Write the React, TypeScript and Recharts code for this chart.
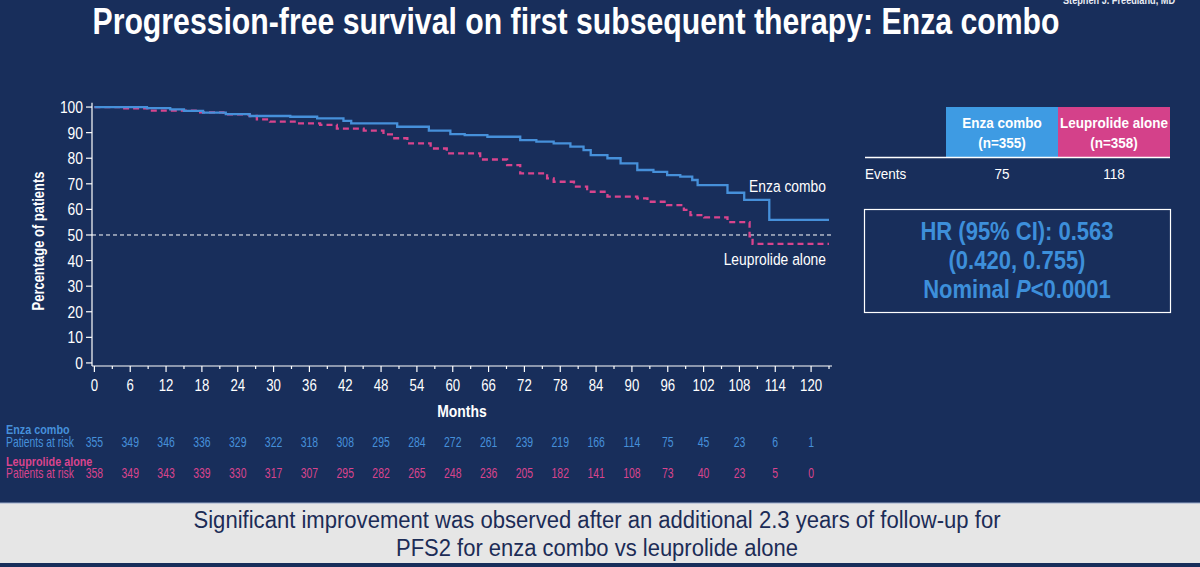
import React from 'react';
import { LineChart, Line, XAxis, YAxis, ReferenceLine } from 'recharts';

// Kaplan–Meier step points: month at which each level starts, and % progression-free
const enzaMonths = [0, 8.8, 12.7, 15, 18.2, 22, 26, 32.8, 37.3, 41.7, 43, 50.7, 56, 59.6, 62, 65.8, 71.3, 74, 76.9, 79.7, 81.9, 83.1, 85.9, 88.1, 90.9, 93.6, 95.9, 98.1, 100.1, 101, 106, 108.8, 113, 123];
const enzaPct = [100, 99.6, 99.1, 98.5, 97.8, 97.2, 96.5, 96.2, 95.6, 94.6, 93.6, 92.3, 90.8, 89.4, 89, 88.4, 87.1, 86.5, 85.8, 84.5, 83.2, 81.2, 80, 78, 75.4, 74.7, 73.4, 72.8, 71.5, 69.5, 66.5, 63.7, 55.9, 55.9];

const leupMonths = [0, 4.3, 9, 17.2, 21.6, 26, 27.2, 29.4, 33.9, 37.8, 40.6, 45.1, 48.4, 50, 52.4, 56.3, 59, 64.6, 69.1, 71.3, 75.8, 76.9, 80.3, 82.5, 85.9, 90.9, 92.6, 95.9, 98.7, 99.8, 102.1, 106, 109.7, 110.2, 123];
const leupPct = [100, 99.5, 98.6, 97.9, 97.1, 96.5, 95.2, 94.3, 93.6, 93, 91.6, 90.8, 89.3, 87.8, 85.8, 83.8, 81.9, 79.5, 77.3, 74.1, 72.1, 70.8, 68.9, 66.9, 65, 64.3, 63, 61.7, 59.8, 57.8, 56.9, 55, 49.5, 46.5, 46.5];

// Axis ticks: labelled every 6 months, minor marks every 3
const xTicks = [0, 3, 6, 9, 12, 15, 18, 21, 24, 27, 30, 33, 36, 39, 42, 45, 48, 51, 54, 57, 60, 63, 66, 69, 72, 75, 78, 81, 84, 87, 90, 93, 96, 99, 102, 105, 108, 111, 114, 117, 120, 123];
const yTicks = [0, 10, 20, 30, 40, 50, 60, 70, 80, 90, 100];

// Patients at risk at each labelled month (0, 6, ..., 120)
const enzaAtRisk = [355, 349, 346, 336, 329, 322, 318, 308, 295, 284, 272, 261, 239, 219, 166, 114, 75, 45, 23, 6, 1];
const leupAtRisk = [358, 349, 343, 339, 330, 317, 307, 295, 282, 265, 248, 236, 205, 182, 141, 108, 73, 40, 23, 5, 0];

// Summary table
const armNames = ['Enza combo', 'Leuprolide alone'];
const armN = ['(n=355)', '(n=358)'];
const armEvents = [75, 118];
const hrLines = ['HR (95% CI): 0.563', '(0.420, 0.755)'];

const enzaData = enzaMonths.map((m, i) => ({ m, s: enzaPct[i] }));
const leupData = leupMonths.map((m, i) => ({ m, s: leupPct[i] }));

const NAVY = '#182E5B';
const BLUE = '#4690DA';
const PINK = '#D9448D';
const CELL_BLUE = '#3E9BE3';
const CELL_PINK = '#D4418A';
const HR_BLUE = '#3D8FDA';
const FONT = "'Liberation Sans', Arial, sans-serif";

const AXIS_Y = 366;

type NTextProps = {
  x: number;
  y: number;
  size: number;
  fill: string;
  anchor?: 'start' | 'middle' | 'end';
  bold?: boolean;
  sx?: number;
  rotate?: number;
  children: React.ReactNode;
};

// Horizontally condensed text, centred vertically on y
const NText = ({ x, y, size, fill, anchor = 'start', bold = false, sx = 0.82, rotate = 0, children }: NTextProps) => (
  <text
    transform={`translate(${x},${y})${rotate ? ` rotate(${rotate})` : ''} scale(${sx},1)`}
    x={0}
    y={0}
    textAnchor={anchor}
    dominantBaseline="central"
    fill={fill}
    fontSize={size}
    fontWeight={bold ? 'bold' : 'normal'}
    fontFamily={FONT}
  >
    {children}
  </text>
);

const MonthTick = (props: any) => {
  const { x, payload } = props;
  const v = payload.value as number;
  const major = v % 6 === 0;
  const idx = v / 6;
  return (
    <g>
      <line x1={x} x2={x} y1={AXIS_Y} y2={AXIS_Y + (major ? 6 : 3)} stroke="#FFFFFF" strokeWidth={1.2} />
      {major && (
        <>
          <NText x={x} y={385} anchor="middle" size={16.5} fill="#FFFFFF" sx={0.8}>{v}</NText>
          <NText x={x} y={442} anchor="middle" size={14.5} fill={BLUE} sx={0.72}>{enzaAtRisk[idx]}</NText>
          <NText x={x} y={473} anchor="middle" size={14.5} fill={PINK} sx={0.72}>{leupAtRisk[idx]}</NText>
        </>
      )}
    </g>
  );
};

const PctTick = (props: any) => {
  const { x, y, payload } = props;
  return (
    <NText x={x} y={y} anchor="end" size={16.5} fill="#FFFFFF" sx={0.84}>{payload.value}</NText>
  );
};

export default function App() {
  return (
    <div style={{ position: 'fixed', left: 0, top: 0, width: 1200, height: 567, background: NAVY, overflow: 'hidden' }}>
      <div style={{ position: 'absolute', left: 0, top: 0 }}>
        <LineChart width={1200} height={567} margin={{ top: 102.7, right: 368, bottom: 171, left: 32 }}>
          <XAxis
            dataKey="m"
            type="number"
            domain={[-0.4, 123.5]}
            ticks={xTicks}
            interval={0}
            allowDataOverflow
            height={30}
            axisLine={{ stroke: '#FFFFFF', strokeWidth: 1.2 }}
            tickLine={false}
            tick={<MonthTick />}
          />
          <YAxis
            type="number"
            domain={[-1.2, 101.7]}
            ticks={yTicks}
            interval={0}
            allowDataOverflow
            width={60}
            axisLine={{ stroke: '#FFFFFF', strokeWidth: 1.2 }}
            tickLine={{ stroke: '#FFFFFF', strokeWidth: 1.2 }}
            tickSize={6}
            tickMargin={3}
            tick={<PctTick />}
          />
          <ReferenceLine y={50} stroke="#FFFFFF" strokeWidth={1} strokeDasharray="4 3" />
          <Line
            data={leupData}
            dataKey="s"
            type="stepAfter"
            stroke={PINK}
            strokeWidth={2.3}
            strokeDasharray="6 4"
            dot={false}
            isAnimationActive={false}
          />
          <Line
            data={enzaData}
            dataKey="s"
            type="stepAfter"
            stroke={BLUE}
            strokeWidth={2.3}
            dot={false}
            isAnimationActive={false}
          />
        </LineChart>
      </div>

      <svg width={1200} height={567} style={{ position: 'absolute', left: 0, top: 0, pointerEvents: 'none' }} fontFamily={FONT}>
        {/* Title and author */}
        <text x={576} y={21} textAnchor="middle" dominantBaseline="central" fill="#FFFFFF" fontSize={37} fontWeight="bold" textLength={967} lengthAdjust="spacingAndGlyphs">
          Progression-free survival on first subsequent therapy: Enza combo
        </text>
        <text x={1119} y={4} textAnchor="middle" fill="#E8ECF4" fontSize={11} fontWeight="bold" textLength={112} lengthAdjust="spacingAndGlyphs">
          Stephen J. Freedland, MD
        </text>

        {/* Axis titles */}
        <NText x={39} y={241} rotate={-90} anchor="middle" size={16} bold fill="#FFFFFF" sx={0.81}>Percentage of patients</NText>
        <NText x={462} y={411} anchor="middle" size={16} bold fill="#FFFFFF" sx={0.87}>Months</NText>

        {/* Curve labels */}
        <NText x={826} y={186} anchor="end" size={16.5} fill="#FFFFFF" sx={0.84}>Enza combo</NText>
        <NText x={826} y={259} anchor="end" size={16.5} fill="#FFFFFF" sx={0.84}>Leuprolide alone</NText>

        {/* Risk table row labels */}
        <NText x={6} y={430} size={13.5} bold fill={BLUE} sx={0.8}>Enza combo</NText>
        <NText x={6} y={442} size={14} fill={BLUE} sx={0.74}>Patients at risk</NText>
        <NText x={6} y={461.5} size={13.5} bold fill={PINK} sx={0.8}>Leuprolide alone</NText>
        <NText x={6} y={473} size={14} fill={PINK} sx={0.74}>Patients at risk</NText>

        {/* Summary table */}
        <rect x={946} y={107} width={112} height={50} fill={CELL_BLUE} />
        <rect x={1058} y={107} width={112} height={50} fill={CELL_PINK} />
        <NText x={1002} y={123} anchor="middle" size={15} bold fill="#FFFFFF" sx={0.9}>{armNames[0]}</NText>
        <NText x={1002} y={143} anchor="middle" size={15} bold fill="#FFFFFF" sx={0.9}>{armN[0]}</NText>
        <NText x={1114} y={123} anchor="middle" size={15} bold fill="#FFFFFF" sx={0.9}>{armNames[1]}</NText>
        <NText x={1114} y={143} anchor="middle" size={15} bold fill="#FFFFFF" sx={0.9}>{armN[1]}</NText>
        <line x1={865} x2={1170} y1={157.5} y2={157.5} stroke="#FFFFFF" strokeWidth={1.5} />
        <NText x={865} y={174} size={15} fill="#FFFFFF" sx={0.9}>Events</NText>
        <NText x={1002} y={174} anchor="middle" size={15} fill="#FFFFFF" sx={0.9}>{armEvents[0]}</NText>
        <NText x={1114} y={174} anchor="middle" size={15} fill="#FFFFFF" sx={0.9}>{armEvents[1]}</NText>

        {/* Hazard ratio box */}
        <rect x={864.5} y={209.5} width={306} height={103} fill="none" stroke="#FFFFFF" strokeWidth={1.2} />
        <NText x={1017} y={232} anchor="middle" size={25} bold fill={HR_BLUE} sx={0.88}>{hrLines[0]}</NText>
        <NText x={1017} y={261} anchor="middle" size={25} bold fill={HR_BLUE} sx={0.88}>{hrLines[1]}</NText>
        <NText x={1017} y={290} anchor="middle" size={25} bold fill={HR_BLUE} sx={0.88}>
          Nominal <tspan fontStyle="italic">P</tspan>{'<0.0001'}
        </NText>

        {/* Footer band */}
        <rect x={0} y={503} width={1200} height={60} fill="#E6E6E6" />
        <line x1={0} x2={1200} y1={503} y2={503} stroke="#9AAACB" strokeWidth={1} />
        <text x={597} y={520} textAnchor="middle" dominantBaseline="central" fill="#1C2C56" fontSize={23} textLength={807} lengthAdjust="spacingAndGlyphs">
          Significant improvement was observed after an additional 2.3 years of follow-up for
        </text>
        <text x={597} y={548} textAnchor="middle" dominantBaseline="central" fill="#1C2C56" fontSize={23} textLength={402} lengthAdjust="spacingAndGlyphs">
          PFS2 for enza combo vs leuprolide alone
        </text>
      </svg>
    </div>
  );
}
